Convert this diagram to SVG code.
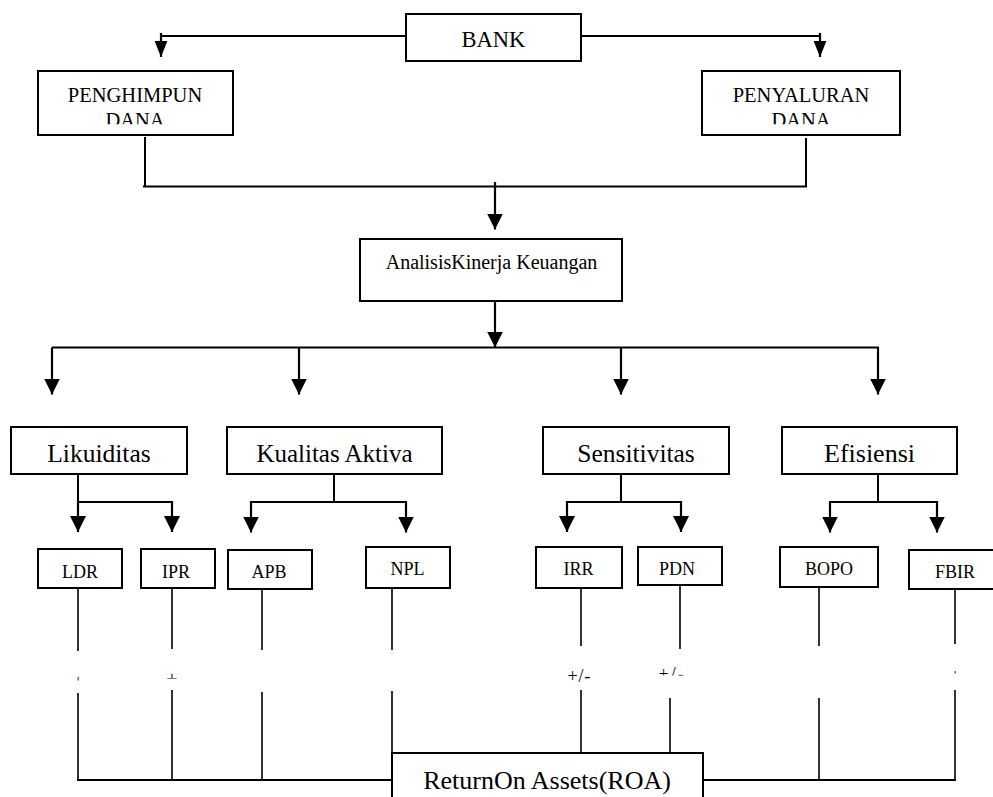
<svg xmlns="http://www.w3.org/2000/svg" width="993" height="797" viewBox="0 0 993 797">
<style>
  .box{fill:#fff;stroke:#000;stroke-width:2}
  .t{font-family:"Liberation Serif","Times New Roman",serif;fill:#000;text-anchor:middle}
  .c{fill:none;stroke:#000;stroke-width:2}
  .thin{fill:none;stroke:#000;stroke-width:1.6}
  .a{fill:none;stroke:#000;stroke-width:2.2;marker-end:url(#ah)}
  .a2{fill:none;stroke:#000;stroke-width:2.2;marker-end:url(#ahs)}
  .lbl{font-family:"Liberation Serif","Times New Roman",serif;fill:#000}
</style>
<defs>
  <marker id="ah" markerUnits="userSpaceOnUse" markerWidth="16" markerHeight="16" refX="15" refY="7.5" orient="auto" viewBox="0 0 15 15">
    <path d="M0,0 L15,7.5 L0,15 z" fill="#000"/>
  </marker>
  <marker id="ahs" markerUnits="userSpaceOnUse" markerWidth="16" markerHeight="13" refX="15" refY="6" orient="auto" viewBox="0 0 15 12">
    <path d="M0,0 L15,6 L0,12 z" fill="#000"/>
  </marker>
  <clipPath id="clipDana"><rect x="0" y="0" width="993" height="124.3"/></clipPath>
  <clipPath id="cLDR"><rect x="60" y="660" width="40" height="20.5"/></clipPath>
  <clipPath id="cIPR"><rect x="150" y="660" width="45" height="18.5"/></clipPath>
  <clipPath id="cPDN"><rect x="640" y="650" width="60" height="25.5"/></clipPath>
  <clipPath id="cFBIR"><rect x="935" y="650" width="40" height="23.5"/></clipPath>
</defs>

<g id="connectors">
  <!-- BANK branches -->
  <path class="c" d="M406,36 H161"/>
  <path class="a2" d="M161,33 V57"/>
  <path class="c" d="M581,36 H820"/>
  <path class="a2" d="M820,33 V57"/>
  <!-- merge to analysis -->
  <path class="c" d="M145,137 V187"/>
  <path class="c" d="M806,138 V186"/>
  <path class="c" d="M143,186.5 H807"/>
  <path class="a" d="M495,182 V229.5"/>
  <!-- analysis to categories -->
  <path class="a" d="M495,301 V347.5"/>
  <path class="c" d="M52,347.5 H879"/>
  <path class="a" d="M52,347.5 V394.5"/>
  <path class="a" d="M299,347.5 V394.5"/>
  <path class="a" d="M621,347.5 V394.5"/>
  <path class="a" d="M878,347.5 V394.5"/>
  <!-- categories to ratios -->
  <path class="c" d="M78,474 V502 H172"/>
  <path class="a" d="M78,501 V532"/>
  <path class="a" d="M172,501 V532"/>
  <path class="c" d="M334,474 V502 M250,502 H407"/>
  <path class="a" d="M251,501 V532.5"/>
  <path class="a" d="M406,501 V532.5"/>
  <path class="c" d="M621,474 V502 M566,502 H682"/>
  <path class="a" d="M567,501 V532"/>
  <path class="a" d="M681,501 V532"/>
  <path class="c" d="M878,474 V502 M829,502 H938"/>
  <path class="a" d="M830,501 V532.5"/>
  <path class="a" d="M937,501 V532.5"/>
  <!-- ratios to ROA -->
  <path class="thin" d="M78,588 V651 M78,693 V781"/>
  <path class="thin" d="M172,588 V649 M172,690 V781"/>
  <path class="thin" d="M262,589 V650 M262,692 V781"/>
  <path class="thin" d="M392,588 V650 M392,691 V797"/>
  <path class="thin" d="M581,588 V646 M581,690 V753"/>
  <path class="thin" d="M680,585 V649 M670,698 V753"/>
  <path class="thin" d="M819,587 V646 M819,698 V781"/>
  <path class="thin" d="M955,589 V644 M955,690 V781"/>
  <path class="c" d="M77,780 H392"/>
  <path class="c" d="M703,780 H956"/>
  <!-- sign labels -->
  <text class="lbl" x="78" y="687.5" font-size="18" text-anchor="middle" clip-path="url(#cLDR)">+</text>
  <text class="lbl" x="172" y="685.5" font-size="20" text-anchor="middle" clip-path="url(#cIPR)">+</text>
  <text class="lbl" x="579.5" y="682" font-size="18" text-anchor="middle" letter-spacing="1">+/-</text>
  <text class="lbl" x="658.5" y="679.5" font-size="18" letter-spacing="2" clip-path="url(#cPDN)">+/-</text>
  <text class="lbl" x="955" y="681.5" font-size="18" text-anchor="middle" clip-path="url(#cFBIR)">+</text>
</g>

<g id="bank">
  <rect class="box" x="406" y="14" width="175" height="47"/>
  <text class="t" x="493.5" y="46.7" font-size="22.5">BANK</text>
</g>
<g id="penghimpun">
  <rect class="box" x="38" y="71" width="195" height="64"/>
  <text class="t" x="135" y="101.7" font-size="20.5">PENGHIMPUN</text>
  <text class="t" x="135" y="127" font-size="20.5" clip-path="url(#clipDana)">DANA</text>
</g>
<g id="penyaluran">
  <rect class="box" x="702" y="71" width="198" height="64"/>
  <text class="t" x="801" y="101.7" font-size="20.5">PENYALURAN</text>
  <text class="t" x="801" y="127" font-size="20.5" clip-path="url(#clipDana)">DANA</text>
</g>
<g id="analisis">
  <rect class="box" x="360" y="239" width="262" height="62"/>
  <text class="t" x="491.5" y="269" font-size="20">AnalisisKinerja Keuangan</text>
</g>
<g id="likuiditas">
  <rect class="box" x="11" y="427" width="176" height="47"/>
  <text class="t" x="99" y="462" font-size="25.5">Likuiditas</text>
</g>
<g id="kualitas">
  <rect class="box" x="227" y="427" width="215" height="47"/>
  <text class="t" x="334.5" y="462" font-size="25">Kualitas Aktiva</text>
</g>
<g id="sensitivitas">
  <rect class="box" x="543" y="427" width="186" height="47"/>
  <text class="t" x="636" y="462" font-size="25.5">Sensitivitas</text>
</g>
<g id="efisiensi">
  <rect class="box" x="782" y="427" width="175" height="47"/>
  <text class="t" x="869.5" y="462" font-size="26">Efisiensi</text>
</g>
<g id="ldr">
  <rect class="box" x="38" y="549" width="84" height="39"/>
  <text class="t" x="80" y="577.7" font-size="18">LDR</text>
</g>
<g id="ipr">
  <rect class="box" x="141" y="549" width="74" height="39"/>
  <text class="t" x="176" y="577.7" font-size="18">IPR</text>
</g>
<g id="apb">
  <rect class="box" x="228" y="550" width="84" height="39"/>
  <text class="t" x="269" y="577.7" font-size="18">APB</text>
</g>
<g id="npl">
  <rect class="box" x="366" y="547" width="84" height="41"/>
  <text class="t" x="407.5" y="575" font-size="18">NPL</text>
</g>
<g id="irr">
  <rect class="box" x="536" y="547" width="86" height="41"/>
  <text class="t" x="578.5" y="575" font-size="18">IRR</text>
</g>
<g id="pdn">
  <rect class="box" x="638" y="547" width="84" height="38"/>
  <text class="t" x="677" y="575" font-size="18">PDN</text>
</g>
<g id="bopo">
  <rect class="box" x="780" y="547" width="98" height="40"/>
  <text class="t" x="829" y="575" font-size="18">BOPO</text>
</g>
<g id="fbir">
  <rect class="box" x="909" y="550" width="100" height="39"/>
  <text class="t" x="955" y="577.7" font-size="18">FBIR</text>
</g>
<g id="roa">
  <rect class="box" x="392" y="753" width="311" height="60"/>
  <text class="t" x="547" y="789" font-size="26">ReturnOn Assets(ROA)</text>
</g>
</svg>
